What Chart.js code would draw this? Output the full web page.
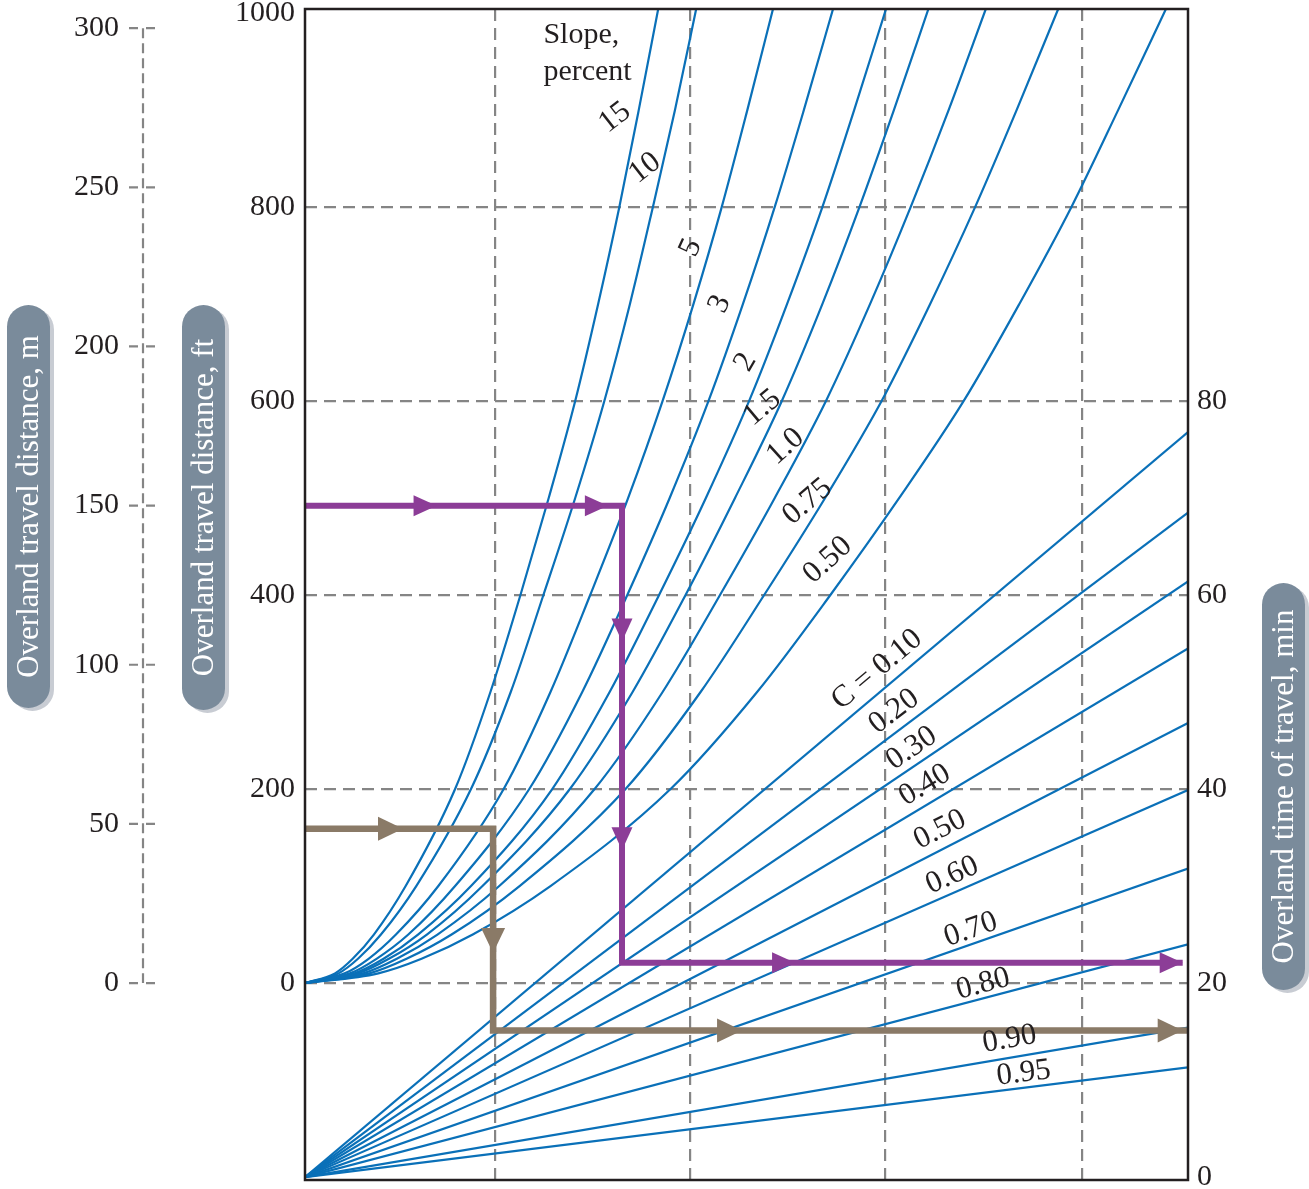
<!DOCTYPE html>
<html>
<head>
<meta charset="utf-8">
<script src="https://cdn.jsdelivr.net/npm/chart.js@4.4.1/dist/chart.umd.min.js"></script>
<style>
  html, body { margin: 0; padding: 0; background: #ffffff; }
  #wrap { width: 1309px; height: 1189px; }
</style>
</head>
<body>
<div id="wrap"><canvas id="nomo" width="1309" height="1189"></canvas></div>
<script>
// ---- Upper chart: overland travel distance (ft) at which each slope curve is sampled
const distanceFt = [0, 10, 25, 50, 100, 200, 300, 400, 500, 600, 700, 800, 900, 1004];

// Slope, percent  (horizontal position of each curve at the distances above)
const slopeNames = ['15', '10', '5', '3', '2', '1.5', '1.0', '0.75', '0.50'];
const slope15  = [0, 3.4, 5.4, 7.8, 11.4, 17.0, 21.0, 24.4, 27.6, 30.6, 33.2, 35.6, 37.8, 40.0];
const slope10  = [0, 3.8, 6.0, 8.6, 12.6, 18.8, 23.3, 27.0, 30.6, 33.9, 36.8, 39.4, 41.9, 44.3];
const slope5   = [0, 4.5, 7.2, 10.3, 15.1, 22.5, 27.8, 32.3, 36.6, 40.5, 44.0, 47.2, 50.1, 53.0];
const slope3   = [0, 5.1, 8.1, 11.7, 17.0, 25.4, 31.4, 36.5, 41.3, 45.7, 49.6, 53.2, 56.5, 59.8];
const slope2   = [0, 5.6, 8.9, 12.8, 18.8, 28.0, 34.5, 40.1, 45.4, 50.3, 54.6, 58.6, 62.2, 65.8];
const slope1_5 = [0, 6.0, 9.5, 13.8, 20.1, 30.0, 37.1, 43.1, 48.7, 54.0, 58.6, 62.8, 66.7, 70.6];
const slope1_0 = [0, 6.6, 10.4, 15.0, 22.0, 32.8, 40.5, 47.0, 53.2, 59.0, 64.0, 68.6, 72.9, 77.1];
const slope0_75 = [0, 7.3, 11.5, 16.6, 24.3, 36.3, 44.8, 52.0, 58.9, 65.3, 70.8, 75.9, 80.6, 85.3];
const slope0_50 = [0, 8.3, 13.2, 19.0, 27.8, 41.4, 51.2, 59.5, 67.3, 74.6, 80.9, 86.8, 92.1, 97.5];
const slopeSeries = [slope15, slope10, slope5, slope3, slope2, slope1_5, slope1_0, slope0_75, slope0_50];

// ---- Lower chart: runoff coefficient lines, time of travel (min) reached at the right edge
const runoffC = ['0.10', '0.20', '0.30', '0.40', '0.50', '0.60', '0.70', '0.80', '0.90', '0.95'];
const timeAtRightEdge = [76.8, 68.5, 61.4, 54.5, 46.8, 39.9, 31.8, 24.0, 15.4, 11.3];

// ---- Axis ticks
const ftTicks = [0, 200, 400, 600, 800, 1000];
const mTicks = [0, 50, 100, 150, 200, 250, 300];
const minTicks = [0, 20, 40, 60, 80];
const gridX = [21.5, 43.6, 65.7, 88.0];

// ---- Worked examples (distance in ft, turning points on the curves)
const purplePathX = [0, 35.9, 35.9, 99.4];
const purplePathFt = [492, 492, 21, 21];
const brownPathX = [0, 21.3, 21.3, 100];
const brownPathFt = [159, 159, -49, -49];
const purpleArrowX = [14.9, 34.3, 35.9, 35.9, 55.5, 99.4];
const purpleArrowFt = [492, 492, 352, 137, 21, 21];
const purpleArrowDir = ['r', 'r', 'd', 'd', 'r', 'r'];
const brownArrowX = [11.1, 21.3, 49.5, 99.4];
const brownArrowFt = [159, 31, -49, -49];
const brownArrowDir = ['r', 'd', 'r', 'r'];

// ---- Styling
const BLUE = '#0a70b8';
const PURPLE = '#8c3d97';
const BROWN = '#8a7a67';
const GRID = '#858585';
const INK = '#231f20';
const SERIF = '"Liberation Serif", "DejaVu Serif", serif';

const FT_MIN = -203, FT_MAX = 1004;

// Text placed along the curves: [text, x, ft, angle in degrees]
const curveText = [
  ['15', 35.1, 892, -38], ['10', 38.5, 840, -38], ['5', 43.7, 758, -65],
  ['3', 47.0, 700, -65], ['2', 49.9, 640, -60], ['1.5', 51.8, 593, -40],
  ['1.0', 54.4, 553, -42], ['0.75', 56.9, 496, -40], ['0.50', 59.2, 436, -42],
  ['C = 0.10', 64.8, 323, -40], ['0.20', 66.7, 280, -37], ['0.30', 68.7, 242, -34],
  ['0.40', 70.2, 204, -31], ['0.50', 71.9, 158, -27], ['0.60', 73.3, 111, -24],
  ['0.70', 75.4, 55, -19], ['0.80', 76.8, -1, -15], ['0.90', 79.8, -58, -10],
  ['0.95', 81.4, -93, -7]
];

const datasets = [];
datasets.push({
  label: 'Example 1', yAxisID: 'y', order: 0,
  data: purplePathX.map((x, i) => ({ x, y: purplePathFt[i] })),
  showLine: true, borderColor: PURPLE, borderWidth: 6, pointRadius: 0,
  tension: 0, borderJoinStyle: 'miter', borderCapStyle: 'butt'
});
datasets.push({
  label: 'Example 2', yAxisID: 'y', order: 0,
  data: brownPathX.map((x, i) => ({ x, y: brownPathFt[i] })),
  showLine: true, borderColor: BROWN, borderWidth: 6.5, pointRadius: 0,
  tension: 0, borderJoinStyle: 'miter', borderCapStyle: 'butt'
});
slopeSeries.forEach((xs, k) => {
  datasets.push({
    label: 'Slope ' + slopeNames[k] + '%', yAxisID: 'y', order: 2,
    data: xs.map((x, i) => ({ x, y: distanceFt[i] })),
    showLine: true, borderColor: BLUE, borderWidth: 2.2, pointRadius: 0,
    cubicInterpolationMode: 'monotone'
  });
});
runoffC.forEach((c, k) => {
  datasets.push({
    label: 'C = ' + c, yAxisID: 'y2', order: 2,
    data: [{ x: 0, y: 0 }, { x: 100, y: timeAtRightEdge[k] }],
    showLine: true, borderColor: BLUE, borderWidth: 2.2, pointRadius: 0, tension: 0
  });
});

function fixedTicks(list) {
  return scale => { scale.ticks = list.map(v => ({ value: v })); };
}
function fixedSize(w) {
  return scale => { scale.width = w; scale.paddingTop = 0; scale.paddingBottom = 0; };
}
const plainNumber = v => String(v);

function pillPath(ctx, x, y, w, h) {
  const r = w / 2;
  ctx.beginPath();
  ctx.moveTo(x, y + r);
  ctx.arc(x + r, y + r, r, Math.PI, 0);
  ctx.lineTo(x + w, y + h - r);
  ctx.arc(x + r, y + h - r, r, 0, Math.PI);
  ctx.closePath();
}
function pill(ctx, x, y, w, h, text) {
  ctx.save();
  ctx.fillStyle = '#c8ccd3';
  pillPath(ctx, x + 4, y + 3, w, h);
  ctx.fill();
  ctx.fillStyle = '#7a8b9b';
  pillPath(ctx, x, y, w, h);
  ctx.fill();
  ctx.translate(x + w / 2 + 1, y + h / 2);
  ctx.rotate(-Math.PI / 2);
  ctx.fillStyle = '#ffffff';
  ctx.font = '31px ' + SERIF;
  ctx.textAlign = 'center';
  ctx.textBaseline = 'middle';
  ctx.fillText(text, 0, 0);
  ctx.restore();
}

function arrow(ctx, px, py, dir, color, len, half) {
  ctx.save();
  ctx.fillStyle = color;
  ctx.beginPath();
  if (dir === 'r') {
    ctx.moveTo(px, py); ctx.lineTo(px - len, py - half); ctx.lineTo(px - len, py + half);
  } else {
    ctx.moveTo(px, py); ctx.lineTo(px - half, py - len); ctx.lineTo(px + half, py - len);
  }
  ctx.closePath();
  ctx.fill();
  ctx.restore();
}

const decorations = {
  id: 'decorations',
  afterDatasetsDraw(chart) {
    const { ctx, chartArea: a, scales } = chart;
    const xs = scales.x, ys = scales.y, ms = scales.ym;

    // arrowheads on the worked examples
    purpleArrowX.forEach((x, i) => arrow(ctx, xs.getPixelForValue(x), ys.getPixelForValue(purpleArrowFt[i]), purpleArrowDir[i], PURPLE, 23, 10.5));
    brownArrowX.forEach((x, i) => arrow(ctx, xs.getPixelForValue(x), ys.getPixelForValue(brownArrowFt[i]), brownArrowDir[i], BROWN, 25, 12));

    // plot frame
    ctx.save();
    ctx.strokeStyle = INK;
    ctx.lineWidth = 2.5;
    ctx.strokeRect(a.left, a.top, a.right - a.left, a.bottom - a.top);
    ctx.restore();

    // curve labels
    ctx.save();
    ctx.fillStyle = INK;
    ctx.font = '31px ' + SERIF;
    ctx.textAlign = 'center';
    ctx.textBaseline = 'middle';
    curveText.forEach(([t, x, ft, ang]) => {
      ctx.save();
      ctx.translate(xs.getPixelForValue(x), ys.getPixelForValue(ft));
      ctx.rotate(ang * Math.PI / 180);
      ctx.fillText(t, 0, 0);
      ctx.restore();
    });
    ctx.font = '30px ' + SERIF;
    ctx.textAlign = 'left';
    ctx.fillText('Slope,', xs.getPixelForValue(27.0), ys.getPixelForValue(977));
    ctx.fillText('percent', xs.getPixelForValue(27.0), ys.getPixelForValue(939));
    ctx.restore();

    // metric distance axis: dashed spine with crossing ticks
    const spineX = 143;
    ctx.save();
    ctx.strokeStyle = GRID;
    ctx.lineWidth = 2.2;
    ctx.setLineDash([10, 5]);
    ctx.beginPath();
    ctx.moveTo(spineX, ms.getPixelForValue(300));
    ctx.lineTo(spineX, ms.getPixelForValue(0));
    ctx.stroke();
    ctx.setLineDash([9, 8]);
    mTicks.forEach(v => {
      const py = ms.getPixelForValue(v);
      ctx.beginPath();
      ctx.moveTo(129, py);
      ctx.lineTo(156, py);
      ctx.stroke();
    });
    ctx.restore();

    // axis titles
    pill(ctx, 7, 305, 43, 403, 'Overland travel distance, m');
    pill(ctx, 182, 305, 43, 405, 'Overland travel distance, ft');
    pill(ctx, 1262, 583, 43, 407, 'Overland time of travel, min');
  }
};

const tickFont = { family: SERIF, size: 30 };

new Chart(document.getElementById('nomo'), {
  type: 'scatter',
  data: { datasets },
  options: {
    responsive: false,
    animation: false,
    layout: { padding: { top: 9, bottom: 9, left: 0, right: 0 } },
    plugins: { legend: { display: false }, tooltip: { enabled: false } },
    scales: {
      x: {
        type: 'linear', min: 0, max: 100, position: 'bottom',
        afterBuildTicks: fixedTicks(gridX),
        afterFit: s => { s.height = 0; s.paddingLeft = 0; s.paddingRight = 0; },
        ticks: { display: false },
        grid: { color: GRID, lineWidth: 2.2, drawTicks: false },
        border: { display: false, dash: [12, 7] }
      },
      y: {
        type: 'linear', min: FT_MIN, max: FT_MAX, position: 'left',
        afterBuildTicks: fixedTicks(ftTicks),
        afterFit: fixedSize(145),
        ticks: { font: tickFont, color: INK, padding: 10, callback: plainNumber },
        grid: {
          drawTicks: false, lineWidth: 2.2,
          color: c => (c.tick && c.tick.value === 1000) ? 'rgba(0,0,0,0)' : GRID
        },
        border: { display: false, dash: [12, 7] }
      },
      y2: {
        type: 'linear', min: -0.3, max: 120.4, position: 'right',
        afterBuildTicks: fixedTicks(minTicks),
        afterFit: fixedSize(121),
        ticks: { font: tickFont, color: INK, padding: 9, callback: plainNumber },
        grid: { drawOnChartArea: false, drawTicks: false },
        border: { display: false }
      },
      ym: {
        type: 'linear', min: FT_MIN / 3.2808, max: FT_MAX / 3.2808, position: 'left',
        afterBuildTicks: fixedTicks(mTicks),
        afterFit: fixedSize(160),
        ticks: { font: tickFont, color: INK, padding: 41, callback: plainNumber },
        grid: { display: false, drawTicks: false },
        border: { display: false }
      }
    }
  },
  plugins: [decorations]
});
</script>
</body>
</html>
